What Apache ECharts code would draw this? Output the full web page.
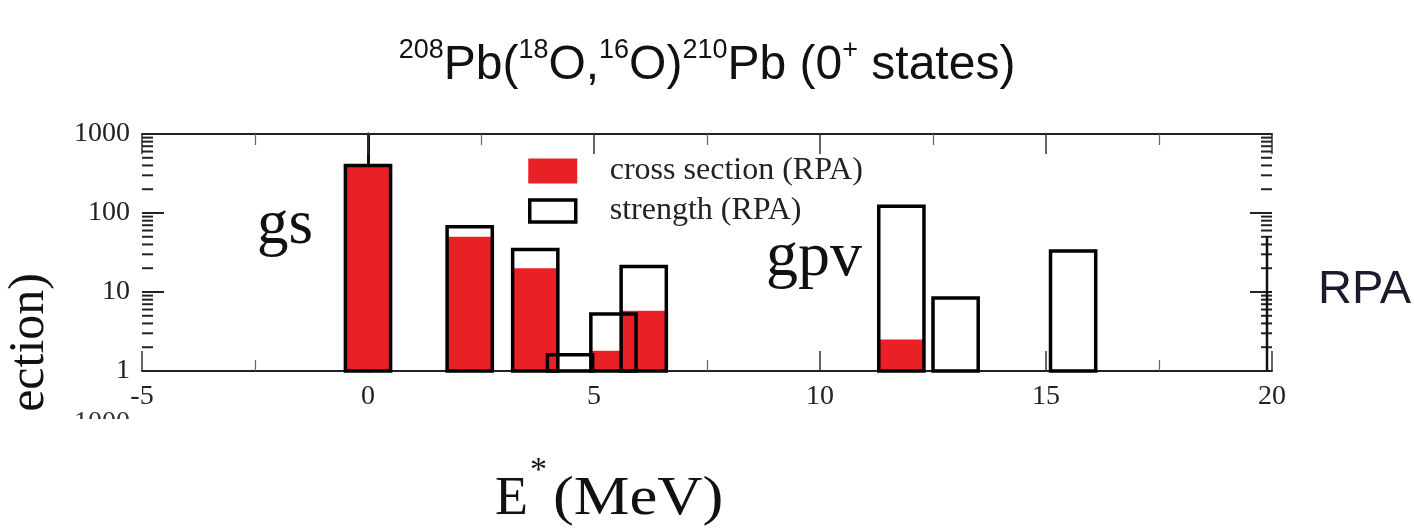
<!DOCTYPE html>
<html>
<head>
<meta charset="utf-8">
<script src="https://cdn.jsdelivr.net/npm/echarts@6/dist/echarts.min.js"></script>
<style>
  html, body { margin: 0; padding: 0; background: #fff; }
  #chart { width: 1414px; height: 531px; }
</style>
</head>
<body>
<div id="chart"></div>
<script>
// Excitation energies (MeV) of the 0+ states and their RPA values
const energies     = [0, 2.25, 3.7, 4.47, 5.43, 6.1, 11.8, 13.0, 15.6];
const crossSection = [400, 50, 20, null, 1.8, 5.8, 2.5, null, null];
const strength     = [400, 67, 34.5, 1.6, 5.25, 21, 122, 8.4, 33];

// Axis ticks
const xTicks = [-5, 0, 5, 10, 15, 20];
const yTicks = [1, 10, 100, 1000];
const yMinorTicks = [2, 3, 4, 5, 6, 7, 8, 9, 20, 30, 40, 50, 60, 70, 80, 90, 200, 300, 400, 500, 600, 700, 800, 900];
// Upper end of the inner line on the right frame edge
const rightInnerTop = [50];

const binWidth = 1.0;
const RED = '#ea2027';
const SERIF = '"Liberation Serif", "DejaVu Serif", serif';
const SANS = '"Liberation Sans", Arial, sans-serif';

const chart = echarts.init(document.getElementById('chart'), null, { renderer: 'canvas' });

function pairs(values) {
  const out = [];
  energies.forEach((e, i) => { if (values[i] != null) out.push([e, values[i]]); });
  return out;
}

function barRenderer(fill, stroke, lineWidth) {
  return function (params, api) {
    const x = api.value(0), v = api.value(1);
    const p0 = api.coord([x - binWidth / 2, yTicks[0]]);
    const p1 = api.coord([x + binWidth / 2, v]);
    return {
      type: 'rect',
      shape: { x: p0[0], y: p1[1], width: p1[0] - p0[0], height: p0[1] - p1[1] },
      style: { fill: fill, stroke: stroke, lineWidth: lineWidth }
    };
  };
}

// Inward ticks on both vertical frame edges of the log axis
function frameTickRenderer(len) {
  return function (params, api) {
    const v = api.value(0);
    const l = api.coord([xTicks[0], v]);
    const r = api.coord([xTicks[xTicks.length - 1], v]);
    return {
      type: 'group',
      children: [
        { type: 'line', shape: { x1: l[0], y1: l[1], x2: l[0] + len, y2: l[1] }, style: { stroke: '#222', lineWidth: 2 } },
        { type: 'line', shape: { x1: r[0], y1: r[1], x2: r[0] - len, y2: r[1] }, style: { stroke: '#222', lineWidth: 2 } }
      ]
    };
  };
}

// Second, shorter line just inside the right frame edge
function innerLineRenderer(params, api) {
  const top = api.coord([xTicks[xTicks.length - 1], api.value(0)]);
  const bot = api.coord([xTicks[xTicks.length - 1], yTicks[0]]);
  return {
    type: 'line',
    shape: { x1: top[0] - 5, y1: top[1], x2: bot[0] - 5, y2: bot[1] },
    style: { stroke: '#111', lineWidth: 2.5 }
  };
}

const axisLine = { show: true, lineStyle: { color: '#222', width: 2 } };
const xAxisBase = {
  type: 'value', min: xTicks[0], max: xTicks[xTicks.length - 1], interval: 5,
  axisLine: axisLine,
  axisTick: { show: true, inside: true, length: 20, lineStyle: { color: '#333', width: 1.5 } },
  minorTick: { show: true, splitNumber: 2, length: 11, lineStyle: { color: '#666', width: 1.2 } },
  splitLine: { show: false }
};
const yAxisBase = {
  type: 'log', logBase: 10, min: yTicks[0], max: yTicks[yTicks.length - 1],
  axisLine: axisLine,
  axisTick: { show: false },
  minorTick: { show: false },
  splitLine: { show: false }
};

chart.setOption({
  animation: false,
  backgroundColor: '#fff',
  title: {
    left: 'center', top: 32,
    text: '{s|208}{m|Pb(}{s|18}{m|O,}{s|16}{m|O)}{s|210}{m|Pb (0}{s|+}{m| states)}',
    textStyle: {
      fontWeight: 'normal',
      rich: {
        m: { fontFamily: SANS, fontSize: 48, fontWeight: 'normal', color: '#111', lineHeight: 58 },
        s: { fontFamily: SANS, fontSize: 27, fontWeight: 'normal', color: '#111', lineHeight: 29, verticalAlign: 'top' }
      }
    }
  },
  legend: {
    orient: 'vertical', left: 523, top: 150,
    itemWidth: 46, itemHeight: 22, itemGap: 8,
    selectedMode: false,
    data: [
      { name: 'cross section (RPA)', icon: 'rect', itemStyle: { color: RED, borderColor: RED, borderWidth: 3 } },
      { name: 'strength (RPA)', icon: 'rect', itemStyle: { color: '#fff', borderColor: '#000', borderWidth: 3.5 } }
    ],
    textStyle: { fontFamily: SERIF, fontSize: 32, color: '#222', lineHeight: 32, padding: [0, 0, 0, 29] }
  },
  grid: { left: 142, right: 142, top: 134, bottom: 160, containLabel: false },
  xAxis: [
    Object.assign({}, xAxisBase, {
      position: 'bottom',
      axisLabel: { fontFamily: SERIF, fontSize: 28, color: '#222', margin: 12 }
    }),
    Object.assign({}, xAxisBase, { position: 'top', axisLabel: { show: false } })
  ],
  yAxis: [
    Object.assign({}, yAxisBase, {
      position: 'left',
      axisLabel: { fontFamily: SERIF, fontSize: 28, color: '#222', margin: 12, formatter: v => String(v) }
    }),
    Object.assign({}, yAxisBase, {
      position: 'right', axisLabel: { show: false },
      axisLine: { show: true, lineStyle: { color: '#111', width: 3 } }
    })
  ],
  series: [
    {
      name: 'cross section (RPA)', type: 'custom', xAxisIndex: 0, yAxisIndex: 0,
      itemStyle: { color: RED },
      renderItem: barRenderer(RED, null, 0),
      data: pairs(crossSection), z: 2
    },
    {
      name: 'strength (RPA)', type: 'custom', xAxisIndex: 0, yAxisIndex: 0,
      itemStyle: { color: '#fff', borderColor: '#000' },
      renderItem: barRenderer(null, '#000', 3.5),
      data: pairs(strength), z: 3
    },
    {
      name: 'major ticks', type: 'custom', xAxisIndex: 0, yAxisIndex: 0,
      renderItem: frameTickRenderer(22), silent: true, clip: false,
      data: yTicks.map(v => [v]), encode: { y: 0 }, z: 4
    },
    {
      name: 'minor ticks', type: 'custom', xAxisIndex: 0, yAxisIndex: 0,
      renderItem: frameTickRenderer(11), silent: true, clip: false,
      data: yMinorTicks.map(v => [v]), encode: { y: 0 }, z: 4
    },
    {
      name: 'inner frame', type: 'custom', xAxisIndex: 0, yAxisIndex: 0,
      renderItem: innerLineRenderer, silent: true, clip: false,
      data: rightInnerTop.map(v => [v]), encode: { y: 0 }, z: 4
    }
  ],
  graphic: [
    { type: 'text', z: 10, style: { text: 'gs', x: 257, y: 226, font: '63px ' + SERIF, fill: '#111', verticalAlign: 'middle' } },
    { type: 'text', z: 10, style: { text: 'gpv', x: 766, y: 258, font: '64px ' + SERIF, fill: '#111', verticalAlign: 'middle' } },
    { type: 'text', z: 10, style: { text: 'RPA', x: 1318, y: 290, font: '47px ' + SANS, fill: '#1b1b2b', verticalAlign: 'middle' } },
    { type: 'text', z: 10, rotation: Math.PI / 2, x: 30, y: 273,
      style: { text: 'ection)', x: 0, y: 0, font: '50px ' + SERIF, fill: '#111', align: 'right', verticalAlign: 'middle' } },
    { type: 'text', z: 5, style: { text: '1000', x: 130, y: 409, font: '28px ' + SERIF, fill: '#333', align: 'right', verticalAlign: 'top' } },
    { type: 'rect', z: 6, shape: { x: 0, y: 419, width: 1414, height: 112 }, style: { fill: '#fff' } },
    { type: 'text', z: 10, style: { text: 'E', x: 495, y: 500, font: '54px ' + SERIF, fill: '#111', verticalAlign: 'middle' } },
    { type: 'text', z: 10, style: { text: '*', x: 530, y: 471, font: '34px ' + SERIF, fill: '#111', verticalAlign: 'middle' } },
    { type: 'text', z: 10, x: 553, y: 500, scaleX: 1.16,
      style: { text: '(MeV)', x: 0, y: 0, font: '54px ' + SERIF, fill: '#111', verticalAlign: 'middle' } }
  ]
});
</script>
</body>
</html>
